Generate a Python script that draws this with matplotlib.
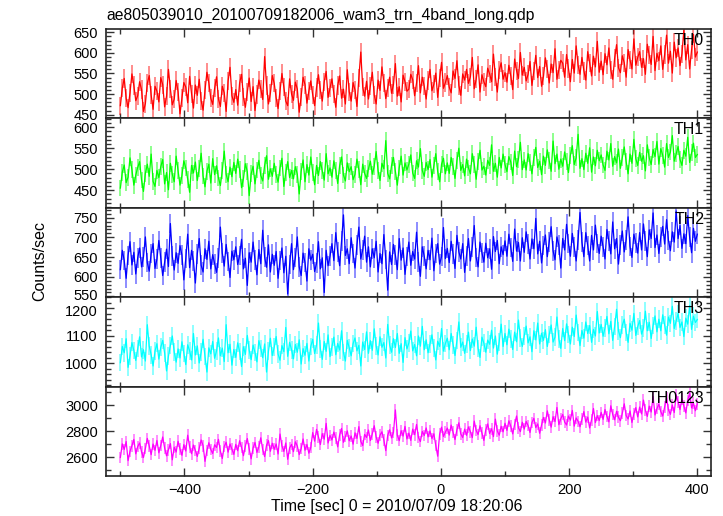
import numpy as np
import matplotlib
matplotlib.use("Agg")
import matplotlib.pyplot as plt
import matplotlib.transforms as mtransforms
from matplotlib.ticker import MultipleLocator

plt.rcParams['font.family'] = ['Liberation Sans', 'DejaVu Sans']

title = "ae805039010_20100709182006_wam3_trn_4band_long.qdp"
xlabel = "Time [sec] 0 = 2010/07/09 18:20:06"
ylabel = "Counts/sec"

time_start, time_stop, time_step = -500, 400, 3
time_sec = np.arange(time_start, time_stop + 1, time_step)

th0 = [472, 515, 538, 490, 467, 503, 549, 521, 484, 496,
       530, 511, 458, 477, 526, 545, 498, 463, 519, 507,
       481, 540, 523, 469, 495, 560, 512, 474, 488, 533,
       506, 452, 491, 528, 517, 479, 543, 501, 466, 522,
       497, 536, 484, 461, 509, 553, 527, 490, 475, 514,
       542, 488, 470, 519, 503, 458, 531, 565, 496, 480,
       511, 473, 527, 548, 492, 468, 505, 539, 482, 518,
       460, 499, 534, 513, 487, 591, 521, 476, 502, 545,
       526, 491, 465, 508, 550, 517, 483, 472, 537, 500,
       485, 529, 512, 456, 494, 541, 523, 478, 507, 532,
       498, 472, 516, 547, 509, 483, 530, 555, 492, 514,
       537, 501, 468, 521, 544, 490, 512, 476, 559, 506,
       483, 528, 510, 470, 539, 602, 517, 495, 531, 488,
       520, 553, 498, 476, 534, 509, 566, 527, 489, 515,
       541, 502, 523, 574, 495, 518, 481, 546, 530, 507,
       512, 548, 535, 496, 527, 569, 503, 541, 519, 488,
       533, 560, 508, 524, 551, 492, 539, 577, 514, 528,
       545, 517, 503, 556, 538, 581, 521, 497, 549, 534,
       560, 526, 542, 589, 513, 536, 571, 505, 547, 530,
       518, 563, 549, 530, 597, 541, 505, 558, 576, 536,
       552, 529, 570, 544, 511, 585, 557, 538, 601, 546,
       565, 532, 548, 579, 521, 556, 594, 540, 567, 519,
       543, 588, 561, 527, 573, 552, 610, 536, 559, 582,
       575, 541, 596, 562, 530, 584, 551, 617, 570, 548,
       589, 557, 534, 603, 576, 544, 592, 566, 628, 553,
       580, 547, 598, 571, 612, 559, 536, 587, 620, 564,
       552, 593, 576, 541, 608, 583, 561, 634, 570, 589,
       603, 565, 586, 548, 621, 594, 572, 640, 557, 599,
       581, 617, 560, 596, 643, 575, 604, 551, 626, 588,
       612, 569, 598, 655, 583, 620, 561, 607, 645, 590,
       602]

th1 = [455, 493, 510, 468, 481, 527, 499, 462, 486, 504,
       518, 474, 447, 490, 512, 483, 536, 471, 459, 497,
       480, 506, 523, 465, 492, 451, 514, 488, 470, 531,
       496, 462, 485, 520, 503, 476, 445, 509, 491, 517,
       473, 501, 538, 484, 458, 495, 512, 467, 525, 487,
       508, 479, 461, 497, 543, 488, 470, 505, 482, 516,
       490, 524, 499, 456, 478, 513, 494, 437, 489, 507,
       465, 498, 521, 485, 472, 509, 532, 476, 501, 483,
       514, 487, 469, 503, 526, 459, 492, 518, 480, 497,
       477, 506, 488, 441, 495, 522, 470, 511, 486, 529,
       492, 463, 509, 485, 518, 496, 474, 537, 489, 503,
       481, 520, 497, 466, 508, 529, 486, 472, 515, 494,
       506, 475, 488, 524, 499, 463, 512, 490, 478, 501,
       519, 488, 507, 542, 496, 473, 514, 501, 568, 490,
       477, 509, 528, 495, 462, 503, 531, 486, 515, 498,
       512, 534, 491, 478, 520, 505, 549, 497, 483, 516,
       499, 523, 481, 508, 537, 494, 470, 512, 526, 489,
       515, 490, 528, 506, 478, 521, 550, 497, 511, 484,
       524, 503, 489, 537, 512, 476, 519, 545, 498, 507,
       486, 521, 509, 558, 495, 514, 481, 528, 503, 536,
       511, 494, 530, 517, 485, 543, 506, 524, 564, 499,
       522, 498, 537, 515, 489, 528, 552, 504, 519, 487,
       531, 509, 546, 521, 495, 567, 513, 536, 500, 524,
       507, 541, 518, 492, 533, 556, 511, 527, 583, 502,
       525, 499, 538, 514, 551, 493, 529, 508, 545, 520,
       534, 510, 497, 543, 522, 561, 507, 530, 515, 548,
       502, 527, 553, 518, 489, 536, 514, 571, 525, 509,
       540, 519, 532, 496, 558, 527, 511, 547, 530, 566,
       512, 549, 533, 505, 561, 528, 541, 580, 519, 537,
       554, 523, 509, 545, 531, 576, 516, 539, 562, 528,
       535]

th2 = [618, 667, 641, 596, 654, 689, 630, 662, 607, 648,
       673, 625, 650, 701, 636, 614, 659, 684, 621, 645,
       692, 648, 603, 637, 670, 626, 735, 652, 617, 661,
       634, 679, 655, 592, 646, 708, 623, 667, 640, 584,
       658, 697, 629, 612, 671, 644, 690, 620, 656, 633,
       611, 648, 726, 660, 627, 682, 639, 598, 665, 643,
       676, 631, 654, 695, 620, 647, 578, 661, 637, 688,
       642, 605, 669, 633, 718, 650, 624, 681, 612, 657,
       629, 664, 596, 641, 673, 610, 652, 556, 631, 684,
       618, 649, 701, 625, 603, 660, 636, 589, 671, 642,
       657, 613, 634, 689, 620, 648, 560, 667, 628, 652,
       684, 641, 712, 663, 628, 690, 757, 654, 671, 633,
       699, 659, 622, 680, 726, 645, 668, 703, 637, 676,
       625, 671, 648, 690, 612, 659, 633, 707, 644, 566,
       663, 631, 682, 655, 618, 697, 642, 673, 606, 651,
       688, 629, 664, 645, 713, 638, 601, 676, 652, 620,
       667, 643, 698, 615, 659, 684, 632, 651, 725, 646,
       672, 636, 690, 658, 621, 705, 663, 645, 684, 611,
       653, 697, 640, 676, 730, 649, 625, 688, 661, 637,
       685, 648, 671, 619, 702, 664, 692, 633, 676, 656,
       691, 652, 708, 674, 639, 721, 665, 687, 640, 699,
       662, 714, 683, 645, 696, 671, 748, 658, 690, 635,
       679, 706, 651, 688, 727, 666, 643, 701, 680, 622,
       697, 668, 733, 684, 652, 710, 675, 640, 694, 763,
       688, 651, 712, 679, 640, 705, 668, 731, 684, 659,
       703, 676, 645, 720, 690, 658, 739, 671, 697, 632,
       681, 716, 663, 694, 752, 677, 649, 708, 686, 660,
       712, 668, 734, 690, 651, 719, 697, 762, 674, 706,
       659, 701, 728, 683, 745, 692, 666, 714, 688, 767,
       697, 730, 672, 709, 684, 755, 700, 661, 723, 690,
       708]

th3 = [1002, 1061, 1038, 1089, 985, 1027, 1075, 1046, 1010, 1053,
       1096, 1023, 1049, 1008, 1140, 1062, 1031, 990, 1044, 1071,
       1015, 1058, 1083, 1037, 972, 1026, 1065, 1099, 1041, 1004,
       1052, 1019, 1078, 1036, 995, 1067, 1045, 1012, 1108, 1030,
       1063, 1001, 1040, 1087, 1024, 968, 1056, 1034, 1079, 1018,
       1045, 1092, 1027, 1055, 1006, 1140, 1038, 1069, 993, 1050,
       1021, 1074, 1043, 988, 1060, 1032, 1101, 1047, 1013, 1066,
       1039, 1005, 1082, 1054, 1020, 1070, 968, 1044, 1091, 1028,
       1058, 1097, 1033, 1011, 1064, 1042, 1130, 1025, 1076, 1049,
       1016, 1068, 1040, 1085, 997, 1053, 1029, 1072, 1008, 1061,
       1087, 1035, 1066, 1146, 1052, 1014, 1079, 1043, 1103, 1024,
       1060, 1095, 1031, 1072, 1048, 1118, 1039, 1008, 1083, 1056,
       1027, 1071, 1092, 1045, 1065, 990, 1077, 1050, 1114, 1036,
       1082, 1047, 1125, 1063, 1030, 1096, 1058, 1075, 1019, 1141,
       1066, 1040, 1089, 1057, 1108, 1036, 1071, 1003, 1093, 1052,
       1074, 1117, 1045, 1068, 1027, 1099, 1062, 1134, 1049, 1085,
       1038, 1070, 1103, 1055, 1012, 1080, 1061, 1126, 1044, 1072,
       1091, 1049, 1108, 1067, 1028, 1083, 1150, 1058, 1077, 1036,
       1070, 1113, 1046, 1088, 1062, 1131, 1054, 1021, 1095, 1073,
       1040, 1084, 1069, 1120, 1055, 1099, 1033, 1078, 1142, 1061,
       1108, 1067, 1124, 1089, 1050, 1113, 1078, 1157, 1092, 1061,
       1100, 1135, 1074, 1096, 1042, 1118, 1085, 1146, 1070, 1109,
       1083, 1122, 1061, 1104, 1139, 1077, 1095, 1168, 1088, 1054,
       1126, 1082, 1143, 1105, 1070, 1131, 1097, 1175, 1112, 1064,
       1119, 1091, 1150, 1108, 1137, 1076, 1123, 1099, 1188, 1110,
       1141, 1098, 1129, 1170, 1107, 1152, 1083, 1134, 1196, 1118,
       1093, 1138, 1160, 1112, 1076, 1145, 1120, 1181, 1101, 1133,
       1155, 1106, 1127, 1189, 1118, 1149, 1090, 1137, 1172, 1114,
       1160, 1118, 1176, 1139, 1102, 1168, 1145, 1207, 1126, 1153,
       1181, 1130, 1150, 1097, 1164, 1142, 1210, 1123, 1171, 1148,
       1159]

th0123 = [2598, 2703, 2660, 2721, 2574, 2645, 2689, 2737, 2626, 2682,
          2710, 2641, 2598, 2667, 2745, 2688, 2620, 2702, 2653, 2729,
          2634, 2691, 2756, 2672, 2611, 2658, 2705, 2580, 2677, 2640,
          2723, 2664, 2615, 2697, 2648, 2770, 2681, 2627, 2694, 2652,
          2606, 2670, 2733, 2689, 2568, 2651, 2712, 2660, 2629, 2696,
          2675, 2738, 2647, 2590, 2683, 2716, 2639, 2702, 2661, 2622,
          2699, 2650, 2727, 2676, 2612, 2687, 2744, 2663, 2588, 2671,
          2714, 2637, 2681, 2750, 2659, 2605, 2693, 2728, 2646, 2708,
          2661, 2702, 2625, 2779, 2688, 2645, 2710, 2584, 2672, 2699,
          2643, 2719, 2686, 2620, 2667, 2741, 2654, 2698, 2631, 2676,
          2790, 2724, 2815, 2756, 2698, 2782, 2739, 2861, 2710, 2768,
          2733, 2794, 2748, 2680, 2771, 2822, 2715, 2759, 2803, 2727,
          2764, 2701, 2788, 2745, 2836, 2722, 2690, 2776, 2752, 2810,
          2729, 2781, 2843, 2756, 2708, 2770, 2796, 2734, 2651, 2768,
          2812, 2749, 2791, 2965, 2770, 2728, 2805, 2763, 2838, 2741,
          2786, 2730, 2817, 2774, 2853, 2752, 2721, 2799, 2768, 2826,
          2757, 2803, 2744, 2781, 2690, 2608, 2778, 2832, 2760, 2794,
          2825, 2771, 2848, 2793, 2736, 2812, 2866, 2780, 2752, 2817,
          2769, 2834, 2797, 2751, 2879, 2806, 2775, 2843, 2788, 2730,
          2811, 2857, 2783, 2820, 2759, 2894, 2802, 2770, 2839, 2796,
          2862, 2807, 2881, 2839, 2780, 2853, 2918, 2826, 2798, 2870,
          2817, 2876, 2844, 2791, 2868, 2900, 2829, 2857, 2785, 2848,
          2907, 2864, 2958, 2889, 2832, 2913, 2875, 2984, 2851, 2897,
          2930, 2872, 2849, 2918, 2886, 2961, 2840, 2903, 2877, 2835,
          2894, 2952, 2871, 2910, 2826, 2889, 2976, 2867, 2921, 2883,
          2946, 2892, 2968, 2915, 2873, 2997, 2930, 2889, 2954, 2908,
          2882, 2939, 3012, 2921, 2895, 2957, 2868, 2935, 2983, 2911,
          2987, 2934, 3041, 2962, 2915, 2994, 2949, 3068, 2926, 2975,
          3010, 2952, 2918, 2989, 3057, 2966, 2931, 3003, 2945, 3082,
          3027, 2968, 3051, 2994, 2942, 3038, 3095, 2981, 3016, 2959,
          3012]

series_names = ["TH0", "TH1", "TH2", "TH3", "TH0123"]
series_values = [th0, th1, th2, th3, th0123]
series_errors = [22, 20, 25, 32, 45]
series_colors = ["#ff0000", "#00ff00", "#0000ff", "#00ffff", "#ff00ff"]
y_limits = [(441, 658), (408, 621), (548, 775), (915, 1240), (2455, 3145)]
y_ticks = [[450, 500, 550, 600, 650], [450, 500, 550, 600],
           [550, 600, 650, 700, 750], [1000, 1100, 1200], [2600, 2800, 3000]]
y_minor = [10, 10, 10, 20, 100]
x_limits = (-522, 422)

fig, axes = plt.subplots(5, 1, sharex=True, figsize=(7.23, 5.16), dpi=100)
fig.subplots_adjust(left=0.147, right=0.984, top=0.9438, bottom=0.0775, hspace=0)

for ax, name, vals, err, col, ylim, yt, ymin in zip(
        axes, series_names, series_values, series_errors, series_colors,
        y_limits, y_ticks, y_minor):
    vals = np.asarray(vals, dtype=float)
    ax.errorbar(time_sec, vals, yerr=err, fmt='none', ecolor=col,
                alpha=0.45, elinewidth=1.4, capsize=0)
    ax.plot(time_sec, vals, color=col, lw=0.9)
    ax.set_ylim(*ylim)
    ax.set_xlim(*x_limits)
    ax.set_yticks(yt)
    ax.yaxis.set_minor_locator(MultipleLocator(ymin))
    ax.xaxis.set_major_locator(MultipleLocator(200))
    ax.xaxis.set_minor_locator(MultipleLocator(100))
    ax.tick_params(which='both', direction='in', top=True, right=True,
                   labelsize=10.5, colors='#333333', labelcolor='black')
    ax.tick_params(which='major', length=6, width=1.0)
    ax.tick_params(which='minor', length=3.5, width=1.0)
    ax.tick_params(axis='y', pad=6)
    ax.tick_params(axis='x', pad=5)
    for sp in ax.spines.values():
        sp.set_linewidth(1.2)
        sp.set_color('#222222')
    ax.text(0.988, 0.955, name, transform=ax.transAxes, ha='right', va='top',
            fontsize=11.5)

# the bottom label of panel 3 and the top label of panel 4 nearly touch; nudge apart
up = mtransforms.ScaledTranslation(0, 1.6 / 72, fig.dpi_scale_trans)
down = mtransforms.ScaledTranslation(0, -1.6 / 72, fig.dpi_scale_trans)
lbl_550 = axes[2].yaxis.get_major_ticks()[0].label1
lbl_550.set_transform(lbl_550.get_transform() + up)
lbl_1200 = axes[3].yaxis.get_major_ticks()[2].label1
lbl_1200.set_transform(lbl_1200.get_transform() + down)

fig.text(106.5 / 723, 1 - 19.5 / 516, title, ha='left', va='baseline', fontsize=11.3)
fig.text(40 / 723, 1 - 261 / 516, ylabel, rotation=90, ha='center', va='center', fontsize=11.5)
fig.text(396.5 / 723, 1 - 511 / 516, xlabel, ha='center', va='baseline', fontsize=11.5)

fig.savefig("out.png", dpi=100)
